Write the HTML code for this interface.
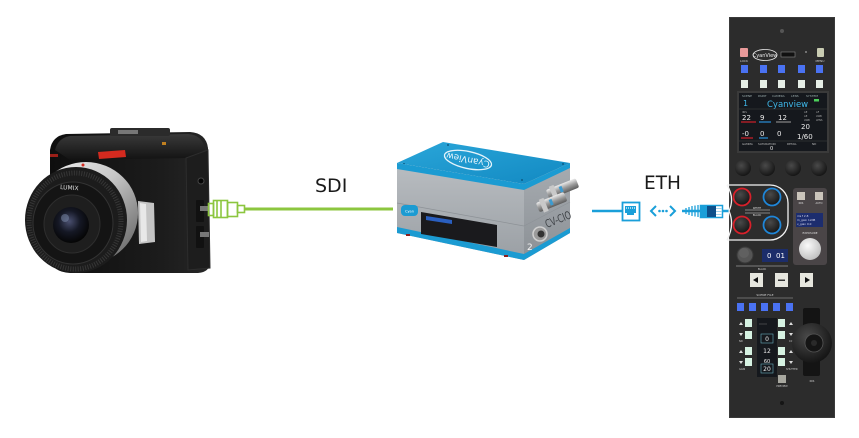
<!DOCTYPE html>
<html><head><meta charset="utf-8"><style>
html,body{margin:0;padding:0;background:#fff;}
svg{display:block;}
text{font-family:"DejaVu Sans","Liberation Sans",sans-serif;}
</style></head><body>
<svg width="859" height="438" viewBox="0 0 859 438" xmlns="http://www.w3.org/2000/svg">
<defs>
<linearGradient id="camTop" x1="0" y1="0" x2="0" y2="1"><stop offset="0" stop-color="#3a3a3a"/><stop offset="1" stop-color="#121212"/></linearGradient>
<linearGradient id="camBody" x1="0" y1="0" x2="1" y2="0"><stop offset="0" stop-color="#0e0e0e"/><stop offset="0.7" stop-color="#1c1c1c"/><stop offset="1" stop-color="#262626"/></linearGradient>
<linearGradient id="silver" x1="0" y1="0" x2="1" y2="1"><stop offset="0" stop-color="#f4f4f4"/><stop offset="0.45" stop-color="#c8c8c8"/><stop offset="0.75" stop-color="#8a8a8a"/><stop offset="1" stop-color="#5a5a5a"/></linearGradient>
<radialGradient id="glass" cx="0.45" cy="0.4" r="0.6"><stop offset="0" stop-color="#4a5070"/><stop offset="0.5" stop-color="#151825"/><stop offset="1" stop-color="#050505"/></radialGradient>
<linearGradient id="boxFront" x1="0" y1="0" x2="0" y2="1"><stop offset="0" stop-color="#b9bdc1"/><stop offset="1" stop-color="#9a9fa4"/></linearGradient>
<linearGradient id="boxSide" x1="0" y1="0" x2="0" y2="1"><stop offset="0" stop-color="#a7acb1"/><stop offset="1" stop-color="#8b9095"/></linearGradient>
<linearGradient id="boxTop" x1="0" y1="0" x2="1" y2="1"><stop offset="0" stop-color="#2aa6d9"/><stop offset="1" stop-color="#1289c2"/></linearGradient>
<linearGradient id="bnc" x1="0" y1="0" x2="0" y2="1"><stop offset="0" stop-color="#ececec"/><stop offset="0.5" stop-color="#9b9b9b"/><stop offset="1" stop-color="#5d5d5d"/></linearGradient>
<radialGradient id="knob" cx="0.4" cy="0.35" r="0.7"><stop offset="0" stop-color="#4a4a4a"/><stop offset="1" stop-color="#121212"/></radialGradient>
<radialGradient id="wknob" cx="0.4" cy="0.35" r="0.7"><stop offset="0" stop-color="#fafafa"/><stop offset="1" stop-color="#bdbdbd"/></radialGradient>
</defs>

<!-- ============ CAMERA ============ -->
<path d="M50,150 Q52,136 66,134 L190,132 Q206,133 208,148 L210,262 Q210,272 198,273 L70,273 Q52,272 50,258 Z" fill="url(#camBody)"/>
<path d="M55,150 Q58,138 70,136 L188,134 Q203,135 205,150 L190,158 L70,160 Z" fill="url(#camTop)"/>
<rect x="110" y="128" width="60" height="8" rx="2" fill="#2b2b2b"/>
<rect x="118" y="130" width="20" height="4" fill="#777"/>
<rect x="162" y="142" width="4" height="3" fill="#c08020"/>
<path d="M98,152 L125,150 L126,157 L99,159 Z" fill="#d42a1f"/>
<rect x="50" y="154" width="8" height="3" fill="#9a1f18"/>
<!-- right side panel -->
<path d="M186,158 L208,150 L210,268 L188,270 Z" fill="#1d1d1d" stroke="#2d2d2d" stroke-width="1"/>
<circle cx="201" cy="181" r="3" fill="#050505" stroke="#444" stroke-width="1"/>
<rect x="196" y="200" width="8" height="22" rx="1" fill="#111"/>
<rect x="196" y="226" width="8" height="22" rx="1" fill="#111"/>
<rect x="200" y="206" width="9" height="5" fill="#777"/>
<rect x="200" y="232" width="9" height="5" fill="#777"/>
<!-- lens -->
<ellipse cx="86" cy="213" rx="52" ry="51" fill="url(#silver)"/>
<ellipse cx="76" cy="220" rx="51" ry="53" fill="#1c1c1c"/>
<ellipse cx="75" cy="221" rx="46" ry="48" fill="none" stroke="#363636" stroke-width="5" stroke-dasharray="1 1.5"/>
<ellipse cx="73" cy="223" rx="40" ry="41" fill="#141414" stroke="#333" stroke-width="1"/>
<ellipse cx="72" cy="224" rx="28" ry="29" fill="#1e1e1e" stroke="#2e2e2e" stroke-width="1"/>
<circle cx="71" cy="225" r="18" fill="url(#glass)"/>
<circle cx="65" cy="218" r="4" fill="#8090b0" opacity="0.5"/>
<text x="60" y="189" font-size="6" fill="#ddd" transform="rotate(4 60 189)">LUMIX</text>
<circle cx="83" cy="165" r="1.5" fill="#d42a1f"/>
<path d="M138,201 L154,203 L155,242 L139,244 Z" fill="#c4c4c4"/>
<path d="M140,203 L146,204 L147,241 L141,242 Z" fill="#e8e8e8"/>

<!-- SDI connector + line -->
<g fill="none" stroke="#8cc63f" stroke-width="1.6">
<rect x="208.5" y="203.5" width="5" height="12"/>
<rect x="213.5" y="200.5" width="14" height="17"/>
<line x1="217" y1="201" x2="217" y2="217"/>
<line x1="221" y1="201" x2="221" y2="217"/>
<rect x="227.5" y="202.5" width="10" height="14"/>
<rect x="237.5" y="205.5" width="7" height="7"/>
</g>
<line x1="244" y1="209" x2="393" y2="209" stroke="#8cc63f" stroke-width="3"/>
<text x="315" y="192" font-size="19" fill="#1a1a1a">SDI</text>

<!-- ============ CV-CIO BOX ============ -->
<polygon points="397,163 443,142 570,163 524,184" fill="url(#boxTop)"/>
<ellipse cx="468" cy="160" rx="24" ry="8.5" fill="none" stroke="#e6f4fb" stroke-width="1.3" transform="rotate(12 468 160)"/>
<text x="468" y="163" font-size="9" fill="#e6f4fb" text-anchor="middle" transform="rotate(192 468 160)">CyanView</text>
<circle cx="448" cy="145" r="1" fill="#0c5c86"/><circle cx="563" cy="164" r="1" fill="#0c5c86"/><circle cx="404" cy="164" r="1" fill="#0c5c86"/><circle cx="522" cy="180" r="1" fill="#0c5c86"/>
<polygon points="397,163 524,184 524,260 397,233" fill="url(#boxFront)"/>
<polygon points="397,163 524,184 524,190 397,169" fill="#1b9bd2"/>
<polygon points="397,227 524,254 524,260 397,233" fill="#1b9bd2"/>
<polygon points="524,184 570,163 570,233 524,260" fill="url(#boxSide)"/>
<polygon points="524,184 570,163 570,168 524,190" fill="#1b9bd2"/>
<polygon points="524,254 570,228 570,233 524,260" fill="#1b9bd2"/>
<line x1="397" y1="203" x2="524" y2="226" stroke="#8d9297" stroke-width="0.7"/>
<line x1="524" y1="226" x2="570" y2="202" stroke="#8d9297" stroke-width="0.7"/>
<!-- display window -->
<polygon points="421,212 497,225 497,247 421,234" fill="#1a1a1d"/>
<polygon points="426,216 452,220 452,224 426,220" fill="#2a5fc0"/>
<!-- small logo -->
<rect x="401" y="205" width="17" height="11" rx="4" fill="#1b9bd2"/>
<text x="409.5" y="212.5" font-size="3.5" fill="#fff" text-anchor="middle">Cyan</text>
<rect x="406" y="234" width="4" height="2" fill="#8b1e1e"/>
<rect x="504" y="255" width="4" height="2" fill="#8b1e1e"/>
<!-- BNC connectors on side -->
<g transform="rotate(-22 562 190)">
<rect x="547" y="184" width="32" height="10" rx="2" fill="url(#bnc)"/>
<rect x="551" y="182" width="5" height="14" fill="#c9c9c9"/>
<rect x="560" y="186" width="3" height="6" fill="#3d9bd0"/>
</g>
<g transform="rotate(-22 552 203)">
<rect x="537" y="197" width="30" height="10" rx="2" fill="url(#bnc)"/>
<rect x="541" y="195" width="5" height="14" fill="#c9c9c9"/>
<rect x="550" y="199" width="3" height="6" fill="#3d9bd0"/>
</g>
<circle cx="540" cy="234" r="7" fill="#9a9a9a" stroke="#d0d0d0" stroke-width="1.5"/>
<circle cx="541" cy="234" r="3.5" fill="#333"/>
<text x="547" y="228" font-size="11" fill="#3e4246" transform="rotate(-22 547 228)" font-family="Liberation Mono, monospace" textLength="27" lengthAdjust="spacingAndGlyphs">CV-CIO</text>
<text x="527" y="250" font-size="9" fill="#f4f4f4">2</text>

<!-- ETH line + icons -->
<line x1="592" y1="211" x2="622" y2="211" stroke="#1a9fd9" stroke-width="2.5"/>
<rect x="622.5" y="202.5" width="17" height="18" fill="#fff" stroke="#1a9fd9" stroke-width="1.8"/>
<path d="M625,206 H636 V213 H634 V215 H627 V213 H625 Z" fill="#1a9fd9"/>
<line x1="626.5" y1="207" x2="626.5" y2="209" stroke="#fff" stroke-width="0.6"/>
<line x1="628.5" y1="207" x2="628.5" y2="209" stroke="#fff" stroke-width="0.6"/>
<line x1="630.5" y1="207" x2="630.5" y2="209" stroke="#fff" stroke-width="0.6"/>
<line x1="632.5" y1="207" x2="632.5" y2="209" stroke="#fff" stroke-width="0.6"/>
<line x1="634.5" y1="207" x2="634.5" y2="209" stroke="#fff" stroke-width="0.6"/>
<polyline points="656,206 651,211 656,216" fill="none" stroke="#1a9fd9" stroke-width="2"/>
<circle cx="659.5" cy="211" r="1.3" fill="#1a9fd9"/>
<circle cx="663" cy="211" r="1.3" fill="#1a9fd9"/>
<circle cx="666.5" cy="211" r="1.3" fill="#1a9fd9"/>
<polyline points="670,206 675,211 670,216" fill="none" stroke="#1a9fd9" stroke-width="2"/>
<line x1="682" y1="211" x2="700" y2="211" stroke="#1a9fd9" stroke-width="2.5"/>
<g stroke="#1a9fd9" stroke-width="1.3">
<line x1="686" y1="208" x2="686" y2="214"/><line x1="689" y1="207" x2="689" y2="215"/>
<line x1="692" y1="206" x2="692" y2="216"/><line x1="695" y1="205.5" x2="695" y2="216.5"/>
<line x1="698" y1="205" x2="698" y2="217"/>
</g>
<rect x="700.5" y="205.5" width="22" height="12" fill="#fff" stroke="#1a9fd9" stroke-width="1.5"/>
<rect x="701" y="206" width="6" height="11" fill="#1a9fd9"/>
<rect x="707" y="206" width="9" height="11" fill="#0d4f8a"/>
<line x1="716" y1="208.5" x2="722" y2="208.5" stroke="#9fd3ee" stroke-width="1"/>
<line x1="716" y1="211.5" x2="722" y2="211.5" stroke="#9fd3ee" stroke-width="1"/>
<line x1="716" y1="214.5" x2="722" y2="214.5" stroke="#9fd3ee" stroke-width="1"/>
<line x1="722" y1="211" x2="730" y2="211" stroke="#1a9fd9" stroke-width="2.5"/>
<text x="644" y="189" font-size="18.5" fill="#1a1a1a">ETH</text>

<!-- ============ PANEL ============ -->
<rect x="729" y="17" width="106" height="401" fill="#2c2c2c"/>
<rect x="729.5" y="17.5" width="105" height="400" fill="none" stroke="#3a3a3a" stroke-width="1"/>
<circle cx="782" cy="31" r="2" fill="#555"/>
<rect x="740" y="48" width="8" height="9" rx="1" fill="#e89a9a"/>
<text x="744" y="62" font-size="3" fill="#ccc" text-anchor="middle">LOCK</text>
<ellipse cx="765" cy="55" rx="12" ry="5.5" fill="none" stroke="#eee" stroke-width="0.8"/>
<text x="765" y="57" font-size="5" fill="#eee" text-anchor="middle">CyanView</text>
<rect x="781" y="52" width="14" height="5" fill="#111" stroke="#888" stroke-width="0.6"/>
<circle cx="806" cy="52" r="1" fill="#888"/>
<rect x="817" y="48" width="7" height="9" rx="1" fill="#c9ccb2"/>
<text x="820" y="62" font-size="3" fill="#ccc" text-anchor="middle">MENU</text>
<g fill="#4a72f2">
<rect x="741" y="65" width="7" height="8"/><rect x="760" y="65" width="7" height="8"/><rect x="778" y="65" width="7" height="8"/><rect x="798" y="65" width="7" height="8"/><rect x="816" y="65" width="7" height="8"/>
</g>
<g fill="#e6eee6">
<rect x="741" y="80" width="7" height="8"/><rect x="760" y="80" width="7" height="8"/><rect x="778" y="80" width="7" height="8"/><rect x="798" y="80" width="7" height="8"/><rect x="816" y="80" width="7" height="8"/>
</g>
<!-- screen -->
<rect x="737" y="91" width="92" height="62" fill="#3a3a3a"/>
<rect x="739" y="93" width="88" height="58" fill="#15181d"/>
<g font-size="3" fill="#9aa" >
<text x="742" y="97">SCENE</text><text x="758" y="97">PAINT</text><text x="772" y="97">CAMERA</text><text x="791" y="97">LENS</text><text x="806" y="97">SYSTEM</text>
</g>
<rect x="814" y="99" width="5" height="2.5" fill="#4cd05a"/>
<text x="743" y="106" font-size="8" fill="#3fb8ea">1</text>
<text x="767" y="107" font-size="8.5" fill="#3fb8ea">Cyanview</text>
<line x1="739" y1="109" x2="827" y2="109" stroke="#444" stroke-width="0.5"/>
<text x="742" y="113" font-size="2.5" fill="#aaa">IRIS</text>
<g font-size="7" fill="#eee">
<text x="742" y="120">22</text><text x="760" y="120">9</text><text x="778" y="120">12</text>
<text x="801" y="129">20</text><text x="742" y="136">-0</text><text x="760" y="136">0</text><text x="777" y="136">0</text>
<text x="797" y="139">1/60</text>
</g>
<line x1="741" y1="122" x2="756" y2="122" stroke="#d0202a" stroke-width="1.2"/>
<line x1="759" y1="122" x2="771" y2="122" stroke="#2a8fd8" stroke-width="1.2"/>
<line x1="776" y1="122" x2="791" y2="122" stroke="#888" stroke-width="1.2"/>
<line x1="741" y1="138" x2="753" y2="138" stroke="#d0202a" stroke-width="1.2"/>
<line x1="759" y1="138" x2="768" y2="138" stroke="#2a8fd8" stroke-width="1.2"/>
<g font-size="2.5" fill="#aaa"><text x="804" y="113">AE</text><text x="816" y="113">AF</text><text x="804" y="117">AE</text><text x="816" y="117">AWB</text><text x="804" y="121">AWB</text><text x="816" y="121">LENS</text></g>
<line x1="739" y1="141" x2="827" y2="141" stroke="#444" stroke-width="0.5"/>
<g font-size="2.8" fill="#bbb"><text x="742" y="145">GAMMA</text><text x="758" y="145">SATURATION</text><text x="787" y="145">DETAIL</text><text x="812" y="145">ND</text></g>
<text x="770" y="150" font-size="5" fill="#eee">0</text>
<!-- knobs -->
<circle cx="743" cy="168" r="8" fill="url(#knob)"/>
<circle cx="767" cy="168" r="8" fill="url(#knob)"/>
<circle cx="793" cy="168" r="8" fill="url(#knob)"/>
<circle cx="819" cy="168" r="8" fill="url(#knob)"/>
<!-- white outline group -->
<path d="M727,185 H770 A18,18 0 0 1 788,203 V222 A18,18 0 0 1 770,240 H727 M727,185 Q735,198 729,211 Q735,225 727,240" fill="none" stroke="#f2f2f2" stroke-width="1.3"/>
<circle cx="742" cy="197" r="8.5" fill="url(#knob)" stroke="#d8202a" stroke-width="1.8"/>
<circle cx="772" cy="197" r="8.5" fill="url(#knob)" stroke="#1f86d8" stroke-width="1.8"/>
<circle cx="742" cy="225" r="8.5" fill="url(#knob)" stroke="#d8202a" stroke-width="1.8"/>
<circle cx="772" cy="225" r="8.5" fill="url(#knob)" stroke="#1f86d8" stroke-width="1.8"/>
<line x1="745" y1="210" x2="770" y2="210" stroke="#ddd" stroke-width="0.5"/>
<line x1="745" y1="213" x2="770" y2="213" stroke="#ddd" stroke-width="0.5"/>
<text x="757" y="209" font-size="2.5" fill="#ddd" text-anchor="middle">WHITE</text>
<text x="757" y="216" font-size="2.5" fill="#ddd" text-anchor="middle">BLACK</text>
<!-- exposure box -->
<rect x="793" y="188" width="34" height="77" rx="3" fill="#4a4547"/>
<rect x="797" y="192" width="8" height="8" fill="#cac4bb"/>
<rect x="815" y="192" width="8" height="8" fill="#cac4bb"/>
<text x="801" y="204" font-size="2.5" fill="#ddd" text-anchor="middle">IRIS</text>
<text x="819" y="204" font-size="2.5" fill="#ddd" text-anchor="middle">AUTO</text>
<rect x="796" y="213" width="27" height="14" fill="#1c2d6e"/>
<g font-size="2.8" fill="#dde"><text x="797" y="217">iris  f 2.8</text><text x="797" y="221">m_gain 12dB</text><text x="797" y="225">v_gain 0.0</text></g>
<text x="810" y="234" font-size="2.8" fill="#ddd" text-anchor="middle">EXPOSURE</text>
<circle cx="810" cy="249" r="11" fill="url(#wknob)"/>
<!-- black knob + display -->
<circle cx="745" cy="255" r="8" fill="#555" stroke="#3a3a3a"/>
<circle cx="744" cy="253" r="5" fill="#606060"/>
<rect x="762" y="249" width="26" height="13" fill="#1c2d6a"/>
<text x="767" y="258" font-size="7" fill="#fff">0</text>
<text x="776" y="258" font-size="7" fill="#fff">01</text>
<line x1="736" y1="266" x2="788" y2="266" stroke="#ccc" stroke-width="0.5"/>
<text x="762" y="270" font-size="2.5" fill="#ccc" text-anchor="middle">BLACK</text>
<!-- arrow buttons -->
<rect x="750" y="273" width="13" height="14" fill="#e6e6de"/>
<rect x="775" y="273" width="13" height="14" fill="#e6e6de"/>
<rect x="800" y="273" width="13" height="14" fill="#e6e6de"/>
<polygon points="758,277 753,280 758,283" fill="#111"/>
<rect x="778" y="279.5" width="7" height="1.5" fill="#333"/>
<polygon points="805,277 810,280 805,283" fill="#111"/>
<!-- scene file -->
<text x="765" y="296" font-size="3" fill="#ccc" text-anchor="middle">SCENE FILE</text>
<line x1="737" y1="298" x2="793" y2="298" stroke="#ccc" stroke-width="0.4"/>
<g fill="#4a72f2">
<rect x="737" y="303" width="7" height="8"/><rect x="749" y="303" width="7" height="8"/><rect x="761" y="303" width="7" height="8"/><rect x="773" y="303" width="7" height="8"/><rect x="786" y="303" width="7" height="8"/>
</g>
<g fill="#d6f2e2">
<rect x="745" y="319" width="7" height="8"/><rect x="745" y="331" width="7" height="8"/><rect x="745" y="347" width="7" height="8"/><rect x="745" y="358" width="7" height="8"/>
<rect x="778" y="319" width="7" height="8"/><rect x="778" y="331" width="7" height="8"/><rect x="778" y="347" width="7" height="8"/><rect x="778" y="358" width="7" height="8"/>
</g>
<g fill="#ddd">
<polygon points="739,325 741,322 743,325"/><polygon points="739,333 741,336 743,333"/>
<polygon points="739,353 741,350 743,353"/><polygon points="739,361 741,364 743,361"/>
<polygon points="789,325 791,322 793,325"/><polygon points="789,333 791,336 793,333"/>
<polygon points="789,353 791,350 793,353"/><polygon points="789,361 791,364 793,361"/>
</g>
<g font-size="2.5" fill="#ccc"><text x="739" y="342">ND</text><text x="789" y="342">CC</text><text x="739" y="370">GAIN</text><text x="786" y="370">SHUTTER</text></g>
<rect x="757" y="318" width="20" height="59" fill="#15181d"/>
<rect x="761" y="334" width="12" height="9" fill="none" stroke="#6ab" stroke-width="0.6"/>
<text x="767" y="341" font-size="6" fill="#eee" text-anchor="middle">0</text>
<text x="767" y="353" font-size="6" fill="#eee" text-anchor="middle">12</text>
<text x="767" y="363" font-size="5" fill="#eee" text-anchor="middle">60</text>
<rect x="761" y="364" width="12" height="9" fill="none" stroke="#6ab" stroke-width="0.6"/>
<text x="767" y="371" font-size="6" fill="#eee" text-anchor="middle">20</text>
<line x1="759" y1="324" x2="767" y2="324" stroke="#888" stroke-width="0.4"/>
<rect x="778" y="375" width="8" height="8" fill="#a8a8a0"/>
<text x="782" y="387" font-size="2.5" fill="#ccc" text-anchor="middle">PREVIEW</text>
<!-- joystick -->
<rect x="803" y="308" width="17" height="19" rx="2" fill="#141414"/>
<rect x="803" y="358" width="17" height="18" rx="2" fill="#141414"/>
<circle cx="812" cy="343" r="20" fill="url(#knob)"/>
<circle cx="814" cy="343" r="9" fill="#151515" stroke="#555" stroke-width="0.8"/>
<circle cx="814" cy="343" r="3" fill="#2a2a2a"/>
<text x="812" y="382" font-size="2.5" fill="#ccc" text-anchor="middle">IRIS</text>
<circle cx="782" cy="403" r="2" fill="#151515"/>
</svg>
</body></html>
